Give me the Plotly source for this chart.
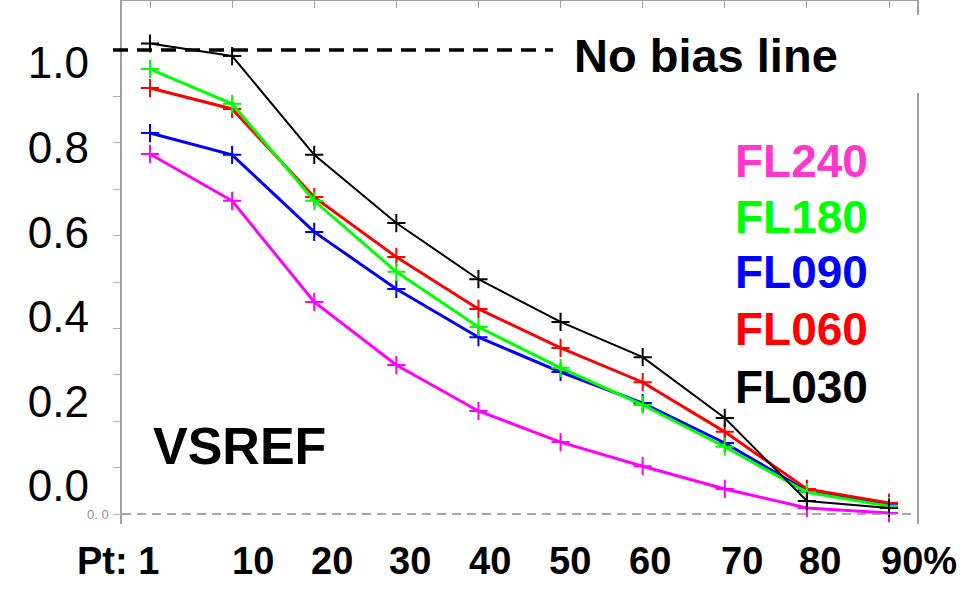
import plotly.graph_objects as go

# ---------------- data ----------------
pt_labels = ["Pt: 1", "10", "20", "30", "40", "50", "60", "70", "80", "90%"]
fl240 = [0.776, 0.675, 0.457, 0.321, 0.222, 0.155, 0.103, 0.054, 0.013, 0.002]
fl180 = [0.959, 0.884, 0.675, 0.522, 0.403, 0.315, 0.235, 0.145, 0.047, 0.017]
fl090 = [0.821, 0.774, 0.608, 0.485, 0.381, 0.306, 0.239, 0.153, 0.050, 0.022]
fl060 = [0.918, 0.873, 0.683, 0.554, 0.442, 0.358, 0.284, 0.177, 0.054, 0.024]
fl030 = [1.014, 0.987, 0.774, 0.627, 0.506, 0.414, 0.338, 0.207, 0.028, 0.013]
legend_names = ["FL240", "FL180", "FL090", "FL060", "FL030"]
y_label_vals = [0.0, 0.2, 0.4, 0.6, 0.8, 1.0]
no_bias_value = 1.0
no_bias_text = "No bias line"
panel_text = "VSREF"

# ---------------- layout constants ----------------
W, H = 972, 597
PL, PR, PT, PB = 122, 917, 1, 524          # plot area in pixels
PH = PB - PT


def px_x(p):
    return (p - PL) / (PR - PL)


def px_y(p):
    return (PB - p) / PH


FONT = "Liberation Sans"
line_colors = {"FL240": "#ff00ff", "FL180": "#00ff00", "FL090": "#0000ff",
               "FL060": "#ff0000", "FL030": "#000000"}
text_colors = {"FL240": "#ff38cc", "FL180": "#00ff00", "FL090": "#0000ff",
               "FL060": "#ff0000", "FL030": "#000000"}
series = {"FL240": fl240, "FL180": fl180, "FL090": fl090,
          "FL060": fl060, "FL030": fl030}
draw_order = ["FL240", "FL090", "FL060", "FL180", "FL030"]

xi = list(range(len(pt_labels)))

fig = go.Figure()
for name in draw_order:
    fig.add_trace(go.Scatter(
        x=xi, y=series[name], mode="lines+markers", name=name,
        line=dict(color=line_colors[name], width=2 if name == "FL030" else 3),
        marker=dict(symbol="cross-thin", size=13,
                    line=dict(color=line_colors[name], width=2)),
        showlegend=False, hoverinfo="skip"))

# helper trace for the overlay label axis
fig.add_trace(go.Scatter(x=[], y=[], yaxis="y2", showlegend=False,
                         hoverinfo="skip"))

# axis ranges in pixel terms
x_step = (889 - 150) / 9
x_range = [(PL - 150) / x_step, (PR - 150) / x_step]
y_scale = 514 - 50            # px per unit for data axis (0 at 514, 1 at 50)
y_range = [(514 - PB) / y_scale, (514 - PT) / y_scale]
y2_scale = 486 - 63           # big labels: 0.0 at 486, 1.0 at 63
y2_range = [(486 - PB) / y2_scale, (486 - PT) / y2_scale]

fig.update_layout(
    width=W, height=H,
    margin=dict(l=PL, r=W - PR, t=PT, b=H - PB, pad=0),
    paper_bgcolor="white", plot_bgcolor="white",
    font=dict(family=FONT, color="black"),
    xaxis=dict(range=x_range, side="top", showline=True, linecolor="#a0a0a0",
               linewidth=1, ticks="inside", ticklen=7, tickcolor="#a0a0a0",
               tickvals=xi, showticklabels=False, showgrid=False,
               zeroline=False, mirror=False),
    yaxis=dict(range=y_range, showline=True, linecolor="#a0a0a0", linewidth=1.5,
               mirror=True, ticks="outside", ticklen=7, tickcolor="#b0b0b0",
               tickvals=[i / 10 for i in range(11)], showticklabels=False,
               showgrid=False, zeroline=False),
    yaxis2=dict(range=y2_range, overlaying="y", side="left", anchor="x",
                showline=False, showgrid=False, zeroline=False, ticks="",
                tickvals=y_label_vals,
                ticktext=[f"{v:.1f}" for v in y_label_vals],
                ticklabelstandoff=32,
                tickfont=dict(family=FONT, size=44, color="black")),
)

shapes = []
# zero reference line (grey dashed)
shapes.append(dict(type="line", xref="paper", yref="y", x0=0, x1=1,
                   y0=0, y1=0, line=dict(color="#8a8a8a", width=1.5,
                                         dash="9px,6px")))
# no-bias line (black dashed)
shapes.append(dict(type="line", xref="paper", yref="y",
                   x0=px_x(113), x1=px_x(553), y0=no_bias_value,
                   y1=no_bias_value,
                   line=dict(color="black", width=3.5, dash="15px,9px")))
# white box behind the "No bias line" label
shapes.append(dict(type="rect", xref="paper", yref="paper",
                   x0=px_x(558), x1=px_x(922), y0=px_y(93), y1=px_y(15),
                   fillcolor="white", line=dict(width=0), layer="above"))
fig.update_layout(shapes=shapes)

annotations = []
# bottom category labels
xlab_px = [117.5, 253, 332, 410, 490, 570, 650, 742, 820, 918.5]
for lab, p in zip(pt_labels, xlab_px):
    annotations.append(dict(text=f"<b>{lab}</b>", xref="paper", yref="paper",
                            x=px_x(p), y=px_y(561), xanchor="center",
                            yanchor="middle", showarrow=False,
                            font=dict(family=FONT, size=38, color="black")))
# series labels
leg_y = [161, 217, 272, 329, 387]
for name, p in zip(legend_names, leg_y):
    annotations.append(dict(text=f"<b>{name}</b>", xref="paper", yref="paper",
                            x=px_x(733), y=px_y(p), xanchor="left",
                            yanchor="middle", showarrow=False,
                            font=dict(family=FONT, size=46,
                                      color=text_colors[name])))
annotations.append(dict(text=f"<b>{no_bias_text}</b>", xref="paper",
                        yref="paper", x=px_x(572), y=px_y(56), xanchor="left",
                        yanchor="middle", showarrow=False,
                        font=dict(family=FONT, size=47, color="black")))
annotations.append(dict(text=f"<b>{panel_text}</b>", xref="paper",
                        yref="paper", x=px_x(239), y=px_y(446),
                        xanchor="center", yanchor="middle", showarrow=False,
                        font=dict(family=FONT, size=52, color="black")))
# tiny residual axis label
annotations.append(dict(text="0. 0", xref="paper", yref="y", x=px_x(111),
                        y=0, xanchor="right", yanchor="middle",
                        showarrow=False,
                        font=dict(family=FONT, size=13, color="#909090")))
fig.update_layout(annotations=annotations)

fig.write_html("out.html")
